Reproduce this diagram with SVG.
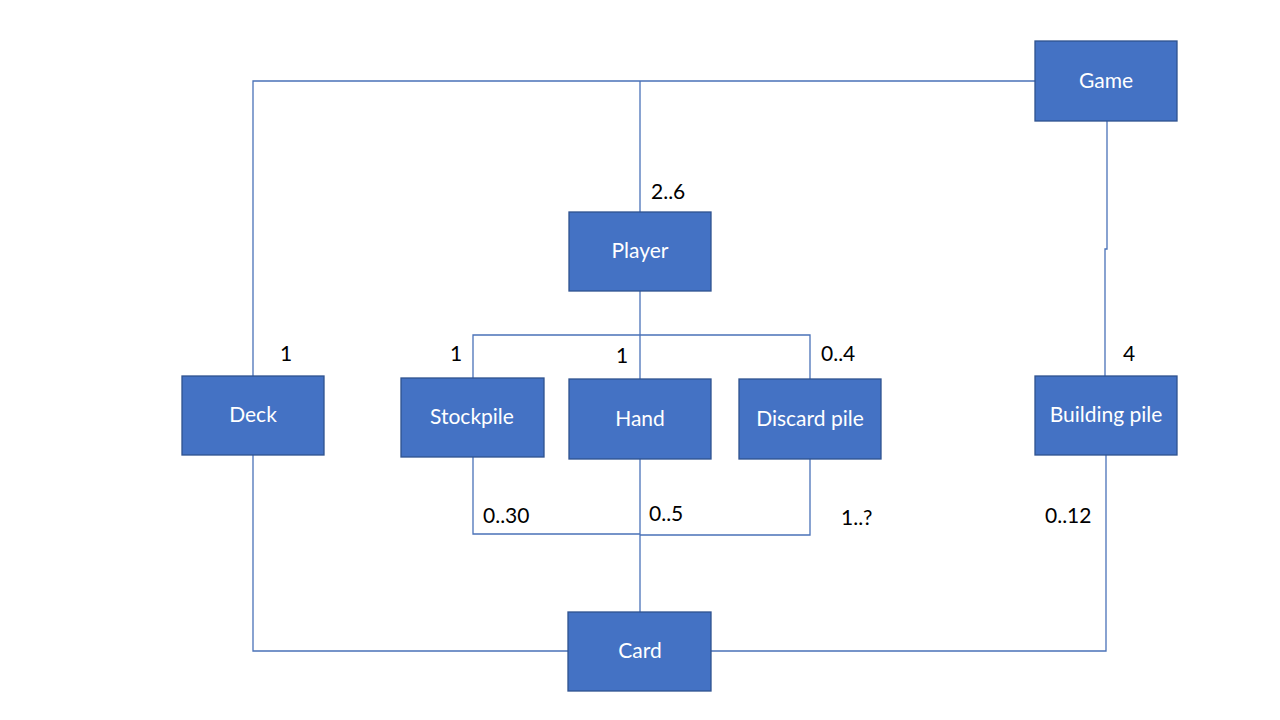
<svg xmlns="http://www.w3.org/2000/svg" width="1280" height="720" viewBox="0 0 1280 720">
<style>
.box{fill:#4472C4;stroke:#2F528F;stroke-width:1.3}
.bt{fill:#ffffff;font-family:Lato,"Liberation Sans",sans-serif;font-size:21px;text-anchor:middle}
.lbl{fill:#000000;font-family:Lato,"Liberation Sans",sans-serif;font-size:21px}
.ln{fill:none;stroke:#4A72B8;stroke-width:1.3}
</style>
<rect width="1280" height="720" fill="#ffffff"/>
<g id="connectors">
<polyline class="ln" points="1035,81 253,81 253,376"/>
<line class="ln" x1="640" y1="81" x2="640" y2="212"/>
<polyline class="ln" points="1107,121 1107,249 1105,249 1105,376"/>
<polyline class="ln" points="640,291 640,335"/>
<polyline class="ln" points="473,378 473,335 810,335 810,379"/>
<line class="ln" x1="640" y1="335" x2="640" y2="379"/>
<polyline class="ln" points="473,457 473,534 640,534"/>
<polyline class="ln" points="810,459 810,535 640,535"/>
<line class="ln" x1="640" y1="459" x2="640" y2="612"/>
<polyline class="ln" points="253,455 253,651 568,651"/>
<polyline class="ln" points="711,651 1106,651 1106,455"/>
</g>
<g id="game"><rect class="box" x="1035" y="41" width="142" height="80"/><text class="bt" x="1106" y="88">Game</text></g>
<g id="player"><rect class="box" x="569" y="212" width="142" height="79"/><text class="bt" x="640" y="258">Player</text></g>
<g id="deck"><rect class="box" x="182" y="376" width="142" height="79"/><text class="bt" x="253" y="422">Deck</text></g>
<g id="stockpile"><rect class="box" x="401" y="378" width="143" height="79"/><text class="bt" x="472" y="424">Stockpile</text></g>
<g id="hand"><rect class="box" x="569" y="379" width="142" height="80"/><text class="bt" x="640" y="426">Hand</text></g>
<g id="discard"><rect class="box" x="739" y="379" width="142" height="80"/><text class="bt" x="810" y="426">Discard pile</text></g>
<g id="building"><rect class="box" x="1035" y="376" width="142" height="79"/><text class="bt" x="1106" y="422">Building pile</text></g>
<g id="card"><rect class="box" x="568" y="612" width="143" height="79"/><text class="bt" x="640" y="658">Card</text></g>
<g id="labels">
<text class="lbl" x="280" y="361">1</text>
<text class="lbl" x="651" y="199">2..6</text>
<text class="lbl" x="450" y="361">1</text>
<text class="lbl" x="616" y="363">1</text>
<text class="lbl" x="821" y="361">0..4</text>
<text class="lbl" x="1123" y="361">4</text>
<text class="lbl" x="483" y="523">0..30</text>
<text class="lbl" x="649" y="521">0..5</text>
<text class="lbl" x="841" y="525">1..?</text>
<text class="lbl" x="1045" y="523">0..12</text>
</g>
</svg>
